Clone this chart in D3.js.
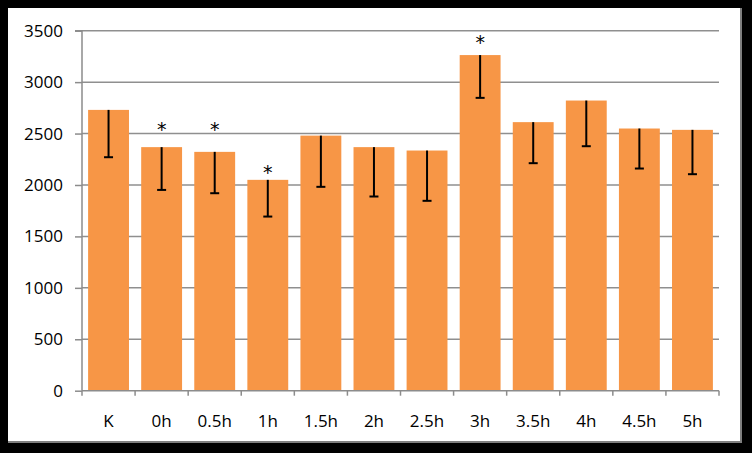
<!DOCTYPE html>
<html><head><meta charset="utf-8">
<script src="https://cdn.jsdelivr.net/npm/d3@7/dist/d3.min.js"></script>
<style>html,body{margin:0;padding:0;background:#000;}svg{display:block;}</style>
</head><body>
<svg id="chart" width="752" height="453"></svg>
<script>
const categories = ["K","0h","0.5h","1h","1.5h","2h","2.5h","3h","3.5h","4h","4.5h","5h"];
const values = [2730,2368,2322,2050,2480,2368,2335,3263,2611,2821,2549,2536];
const errorMinus = [460,416,402,357,498,480,489,416,399,444,389,431];
const significant = ["0h","0.5h","1h","3h"];
const starLevel = [2565,2565,2147,3411];
const yTicks = [0,500,1000,1500,2000,2500,3000,3500];

const svg = d3.select("#chart");
svg.append("rect").attr("x",8).attr("y",8).attr("width",733).attr("height",434).attr("fill","#fff");
svg.append("path").attr("d","M741,8 V442 H8").attr("fill","none").attr("stroke","#7f7f7f").attr("stroke-width",2);

const m = {left:82, right:719, top:30.7, bottom:390.7};
const x = d3.scaleBand().domain(categories).range([m.left,m.right]).paddingInner(0.23).paddingOuter(0.115);
const y = d3.scaleLinear().domain([0,3500]).range([m.bottom,m.top]);

// gridlines
svg.append("g").selectAll("line").data(yTicks.filter(d=>d>0)).join("line")
  .attr("x1",m.left).attr("x2",m.right).attr("y1",d=>y(d)).attr("y2",d=>y(d))
  .attr("stroke","#8f8f8f").attr("stroke-width",1.5);

// bars
svg.append("g").selectAll("rect").data(categories).join("rect")
  .attr("x",d=>x(d)).attr("width",x.bandwidth())
  .attr("y",(d,i)=>y(values[i])).attr("height",(d,i)=>y(0)-y(values[i]))
  .attr("fill","#f79646");

// error bars (minus only)
const eg = svg.append("g").attr("stroke","#000").attr("stroke-width",2);
categories.forEach((c,i)=>{
  const cx = x(c)+x.bandwidth()/2;
  eg.append("line").attr("x1",cx).attr("x2",cx).attr("y1",y(values[i])).attr("y2",y(values[i]-errorMinus[i]));
  eg.append("line").attr("x1",cx-4.5).attr("x2",cx+4.5).attr("y1",y(values[i]-errorMinus[i])).attr("y2",y(values[i]-errorMinus[i]));
});

// y axis
const yAxis = svg.append("g").attr("transform",`translate(${m.left},0)`)
  .call(d3.axisLeft(y).tickValues(yTicks).tickSize(7).tickPadding(12).tickFormat(d3.format("d")));
yAxis.select(".domain").attr("stroke","#8c8c8c").attr("stroke-width",1.5).attr("d",`M-7,${m.top}H0V${m.bottom}`);
yAxis.selectAll(".tick line").attr("stroke","#8c8c8c").attr("stroke-width",1.5);
yAxis.selectAll("text").attr("font-family","'Open Sans', sans-serif").attr("font-size",17).attr("fill","#000");

// x axis
const xg = svg.append("g").attr("transform",`translate(0,${m.bottom})`);
xg.append("line").attr("x1",m.left).attr("x2",m.right).attr("stroke","#8c8c8c").attr("stroke-width",1.5);
const bounds = d3.range(categories.length+1).map(i=>m.left + (m.right-m.left)*i/categories.length);
xg.selectAll("line.t").data(bounds).join("line").attr("class","t")
  .attr("x1",d=>d).attr("x2",d=>d).attr("y1",0).attr("y2",5).attr("stroke","#8c8c8c").attr("stroke-width",1.5);
xg.selectAll("text").data(categories).join("text")
  .attr("x",d=>x(d)+x.bandwidth()/2).attr("y",36).attr("text-anchor","middle")
  .attr("font-family","'Open Sans', sans-serif").attr("font-size",17).attr("fill","#000").text(d=>d);

// significance stars
svg.append("g").selectAll("text").data(significant).join("text")
  .attr("x",d=>x(d)+x.bandwidth()/2).attr("y",(d,i)=>y(starLevel[i])+9)
  .attr("text-anchor","middle").attr("font-family","'DejaVu Sans', sans-serif").attr("font-size",19)
  .attr("fill","#000").text("*");
</script>
</body></html>
